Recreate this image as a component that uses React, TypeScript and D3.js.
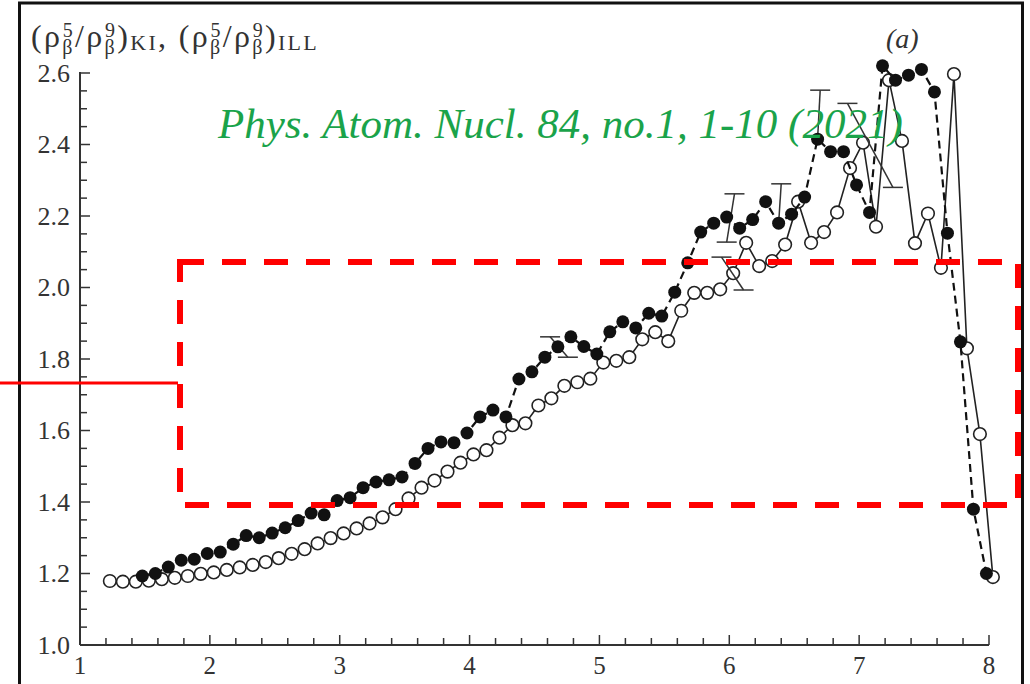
import React from 'react';
import * as d3 from 'd3';

// ILL spectrum ratio (open circles, solid line)
const illEnergy = [1.23, 1.33, 1.43, 1.53, 1.63, 1.73, 1.83, 1.93, 2.03, 2.13, 2.23, 2.33, 2.43, 2.53, 2.63, 2.73, 2.83, 2.93, 3.03, 3.13, 3.23, 3.33, 3.43, 3.53, 3.63, 3.73, 3.83, 3.93, 4.03, 4.13, 4.23, 4.33, 4.43, 4.53, 4.63, 4.73, 4.83, 4.93, 5.03, 5.13, 5.23, 5.33, 5.43, 5.53, 5.63, 5.73, 5.83, 5.93, 6.03, 6.13, 6.23, 6.33, 6.43, 6.53, 6.63, 6.73, 6.83, 6.93, 7.03, 7.13, 7.23, 7.33, 7.43, 7.53, 7.63, 7.73, 7.83, 7.93, 8.03];
const illRatio = [1.179, 1.177, 1.177, 1.18, 1.184, 1.188, 1.193, 1.199, 1.203, 1.21, 1.217, 1.224, 1.232, 1.243, 1.255, 1.268, 1.284, 1.299, 1.312, 1.326, 1.34, 1.357, 1.38, 1.41, 1.44, 1.46, 1.485, 1.51, 1.533, 1.545, 1.58, 1.615, 1.62, 1.67, 1.69, 1.725, 1.735, 1.745, 1.79, 1.795, 1.805, 1.855, 1.875, 1.85, 1.935, 1.985, 1.985, 1.995, 2.04, 2.125, 2.06, 2.074, 2.12, 2.24, 2.125, 2.155, 2.21, 2.334, 2.405, 2.17, 2.58, 2.41, 2.124, 2.207, 2.055, 2.597, 1.83, 1.59, 1.19];

// KI spectrum ratio (filled circles, dashed line)
const kiEnergy = [1.48, 1.58, 1.68, 1.78, 1.88, 1.98, 2.08, 2.18, 2.28, 2.38, 2.48, 2.58, 2.68, 2.78, 2.88, 2.98, 3.08, 3.18, 3.28, 3.38, 3.48, 3.58, 3.68, 3.78, 3.88, 3.98, 4.08, 4.18, 4.28, 4.38, 4.48, 4.58, 4.68, 4.78, 4.88, 4.98, 5.08, 5.18, 5.28, 5.38, 5.48, 5.58, 5.68, 5.78, 5.88, 5.98, 6.08, 6.18, 6.28, 6.38, 6.48, 6.58, 6.68, 6.78, 6.88, 6.98, 7.08, 7.18, 7.28, 7.38, 7.48, 7.58, 7.68, 7.78, 7.88, 7.98];
const kiRatio = [1.193, 1.2, 1.218, 1.237, 1.24, 1.256, 1.26, 1.282, 1.306, 1.3, 1.313, 1.328, 1.348, 1.369, 1.364, 1.404, 1.412, 1.44, 1.456, 1.462, 1.47, 1.508, 1.55, 1.568, 1.566, 1.593, 1.638, 1.657, 1.638, 1.744, 1.764, 1.805, 1.834, 1.862, 1.835, 1.814, 1.876, 1.904, 1.887, 1.928, 1.92, 1.987, 2.069, 2.155, 2.18, 2.197, 2.166, 2.19, 2.24, 2.18, 2.205, 2.253, 2.415, 2.38, 2.38, 2.287, 2.21, 2.62, 2.58, 2.594, 2.61, 2.547, 2.152, 1.848, 1.38, 1.2];

// error bars (slightly slanted in the scan)
const errTopX = [4.62, 6.04, 5.94, 6.4, 6.7, 6.91];
const errTopY = [1.862, 2.262, 2.085, 2.29, 2.552, 2.515];
const errBotX = [4.757, 5.98, 6.11, 6.38, 6.68, 7.26];
const errBotY = [1.805, 2.127, 1.993, 2.18, 2.415, 2.28];
const errBotCap = [true, true, true, false, false, true];

const xTickLabels = ['1', '2', '3', '4', '5', '6', '7', '8'];
const yTickLabels = ['1.0', '1.2', '1.4', '1.6', '1.8', '2.0', '2.2', '2.4', '2.6'];

const SERIF = '"Liberation Serif", "Times New Roman", serif';
const AXIS = '#333';

export default function App() {
  const x = d3.scaleLinear().domain([1, 8]).range([80, 989]);
  const y = d3.scaleLinear().domain([1, 2.6]).range([645, 73]);

  const ill = illEnergy.map((e, i) => [e, illRatio[i]] as [number, number]);
  const ki = kiEnergy.map((e, i) => [e, kiRatio[i]] as [number, number]);
  const line = d3.line<[number, number]>().x(d => x(d[0])).y(d => y(d[1]));

  const xMinor = d3.range(1, 8.001, 0.2);
  const yMinor = d3.range(1, 2.601, 0.05);

  // red highlight rectangle
  const boxX0 = x.invert(180), boxX1 = x.invert(1018);
  const boxY0 = y.invert(262), boxY1 = y.invert(505);

  return (
    <svg width={1030} height={684} style={{ position: 'absolute', left: 0, top: 0, background: '#fff' }}>
      <rect x={0} y={0} width={1030} height={684} fill="#fff" />
      {/* frame of the scanned figure */}
      <rect x={19.5} y={3} width={1003} height={720} fill="none" stroke="#111" strokeWidth={3} />

      {/* axes */}
      <line x1={x(1)} x2={x(1)} y1={y(1)} y2={y(2.6) - 1} stroke={AXIS} strokeWidth={2} />
      <line x1={x(1)} x2={x(8)} y1={y(1)} y2={y(1)} stroke={AXIS} strokeWidth={2} />
      {yMinor.map((v, i) => (
        <line key={'ym' + i} x1={x(1)} x2={x(1) + (i % 4 === 0 ? 10 : 7)} y1={y(v)} y2={y(v)} stroke={AXIS} strokeWidth={1.5} />
      ))}
      {xMinor.map((v, i) => (
        <line key={'xm' + i} x1={x(v)} x2={x(v)} y1={y(1)} y2={y(1) - (i % 5 === 0 ? 10 : 7)} stroke={AXIS} strokeWidth={1.5} />
      ))}
      {yTickLabels.map(t => (
        <text key={'yl' + t} x={x(1) - 10} y={y(+t)} dy="0.34em" textAnchor="end" fontFamily={SERIF} fontSize={26} fill={AXIS}>{t}</text>
      ))}
      {xTickLabels.map(t => (
        <text key={'xl' + t} x={x(+t)} y={674} textAnchor="middle" fontFamily={SERIF} fontSize={25} fill={AXIS}>{t}</text>
      ))}

      {/* axis title: (ρβ5/ρβ9)KI, (ρβ5/ρβ9)ILL */}
      <text x={31} y={47} fontFamily={SERIF} fontSize={32} fill={AXIS} letterSpacing={2.3}>
        <tspan>(ρ</tspan>
        <tspan fontSize={20} dy={7}>β</tspan>
        <tspan fontSize={20} dx={-12} dy={-17}>5</tspan>
        <tspan dy={10}>/ρ</tspan>
        <tspan fontSize={20} dy={7}>β</tspan>
        <tspan fontSize={20} dx={-12} dy={-17}>9</tspan>
        <tspan dy={10}>)</tspan>
        <tspan fontSize={22} dy={3}>KI</tspan>
        <tspan dy={-3}>, (ρ</tspan>
        <tspan fontSize={20} dy={7}>β</tspan>
        <tspan fontSize={20} dx={-12} dy={-17}>5</tspan>
        <tspan dy={10}>/ρ</tspan>
        <tspan fontSize={20} dy={7}>β</tspan>
        <tspan fontSize={20} dx={-12} dy={-17}>9</tspan>
        <tspan dy={10}>)</tspan>
        <tspan fontSize={22} dy={3}>ILL</tspan>
      </text>
      <text x={886} y={48} fontFamily={SERIF} fontStyle="italic" fontSize={28} fill={AXIS}>(a)</text>

      {/* ILL series */}
      <path d={line(ill) || ''} fill="none" stroke="#222" strokeWidth={1.6} />
      {ill.map((d, i) => (
        <circle key={'o' + i} cx={x(d[0])} cy={y(d[1])} r={6.3} fill="#fff" stroke="#222" strokeWidth={1.6} />
      ))}

      {/* error bars */}
      {errTopX.map((tx, i) => (
        <g key={'e' + i} stroke="#333" strokeWidth={1.5}>
          <line x1={x(tx)} y1={y(errTopY[i])} x2={x(errBotX[i])} y2={y(errBotY[i])} />
          <line x1={x(tx) - 10} x2={x(tx) + 10} y1={y(errTopY[i])} y2={y(errTopY[i])} />
          {errBotCap[i] && (
            <line x1={x(errBotX[i]) - 10} x2={x(errBotX[i]) + 10} y1={y(errBotY[i])} y2={y(errBotY[i])} />
          )}
        </g>
      ))}

      {/* KI series */}
      <path d={line(ki) || ''} fill="none" stroke="#111" strokeWidth={2.2} strokeDasharray="8,5" />
      {ki.map((d, i) => (
        <circle key={'f' + i} cx={x(d[0])} cy={y(d[1])} r={6.5} fill="#111" />
      ))}

      {/* citation */}
      <text x={218} y={138} fontFamily={SERIF} fontStyle="italic" fontSize={43} fill="#1aa34a">
        Phys. Atom. Nucl. 84, no.1, 1-10 (2021)
      </text>

      {/* red annotations */}
      <line x1={0} x2={178} y1={383} y2={383} stroke="#ff0000" strokeWidth={3} />
      <path
        d={`M${x(boxX0)},${y(boxY0)}H${x(boxX1)}V${y(boxY1)}H${x(boxX0)}Z`}
        fill="none" stroke="#ff0000" strokeWidth={6} strokeDasharray="24,18"
      />
    </svg>
  );
}
